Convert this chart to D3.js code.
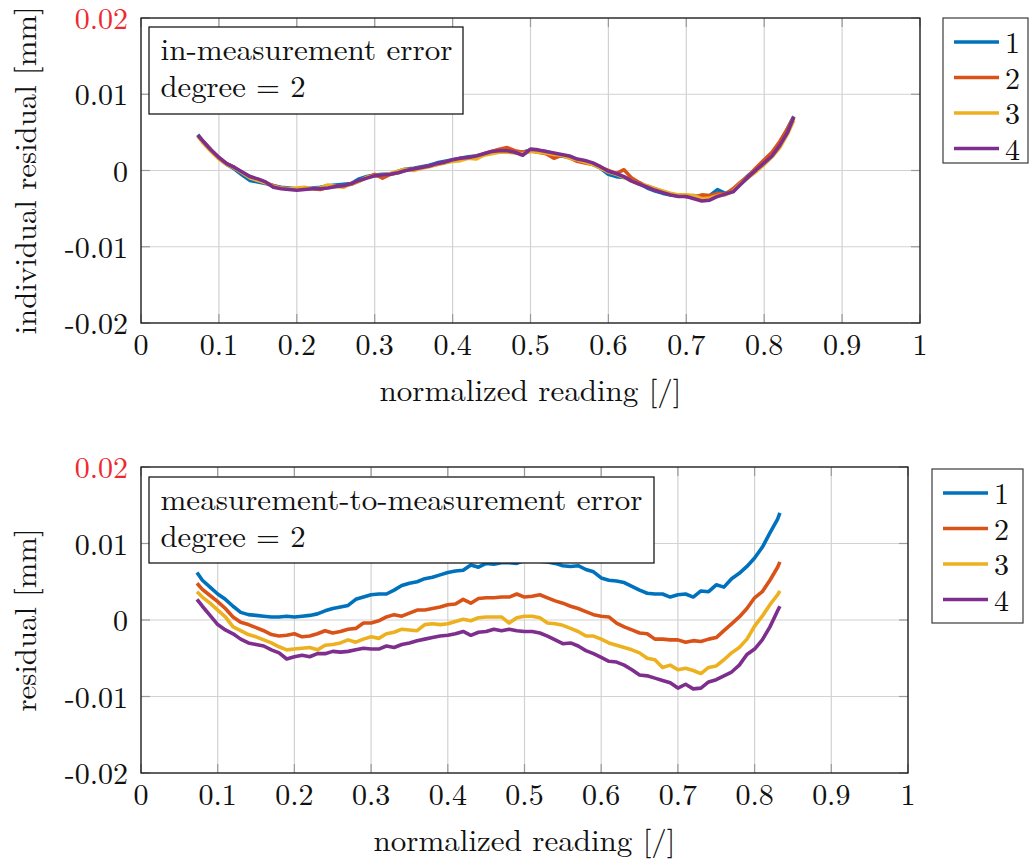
<!DOCTYPE html>
<html>
<head>
<meta charset="utf-8">
<script src="https://cdn.jsdelivr.net/npm/d3@7"></script>
<style>
  html, body { margin: 0; padding: 0; background: #ffffff; }
  svg { display: block; }
</style>
</head>
<body>
<svg id="chart" width="1030" height="860"></svg>
<script>
// ---------------- DATA ----------------
const seriesNames = ["1", "2", "3", "4"];
const seriesColors = ["#0072BD", "#D95319", "#EDB120", "#7E2F8E"];

const xTickValues = [0, 0.1, 0.2, 0.3, 0.4, 0.5, 0.6, 0.7, 0.8, 0.9, 1];
const xTickLabels = ["0", "0.1", "0.2", "0.3", "0.4", "0.5", "0.6", "0.7", "0.8", "0.9", "1"];
const yTickValues = [-0.02, -0.01, 0, 0.01, 0.02];
const yTickLabels = ["-0.02", "-0.01", "0", "0.01", "0.02"];

// Top panel: in-measurement error (individual residual, mm)
const readingTop = [0.073, 0.08, 0.09, 0.10, 0.11, 0.12, 0.13, 0.14, 0.15, 0.16,
  0.17, 0.18, 0.19, 0.20, 0.21, 0.22, 0.23, 0.24, 0.25, 0.26,
  0.27, 0.28, 0.29, 0.30, 0.31, 0.32, 0.33, 0.34, 0.35, 0.36,
  0.37, 0.38, 0.39, 0.40, 0.41, 0.42, 0.43, 0.44, 0.45, 0.46,
  0.47, 0.48, 0.49, 0.50, 0.51, 0.52, 0.53, 0.54, 0.55, 0.56,
  0.57, 0.58, 0.59, 0.60, 0.61, 0.62, 0.63, 0.64, 0.65, 0.66,
  0.67, 0.68, 0.69, 0.70, 0.71, 0.72, 0.73, 0.74, 0.75, 0.76,
  0.77, 0.78, 0.79, 0.80, 0.81, 0.82, 0.83, 0.838];

const top1 = [0.0047, 0.0037, 0.0026, 0.0016, 0.0008, 0.0002, -0.0006, -0.0013, -0.0015, -0.0017,
  -0.0020, -0.0022, -0.0023, -0.0024, -0.0024, -0.0023, -0.0022, -0.0020, -0.0019, -0.0018,
  -0.0017, -0.0011, -0.0008, -0.0006, -0.0005, -0.0005, -0.0001, 0.0002, 0.0003, 0.0005,
  0.0007, 0.0010, 0.0012, 0.0014, 0.0016, 0.0018, 0.0019, 0.0021, 0.0024, 0.0025,
  0.0026, 0.0024, 0.0024, 0.0027, 0.0026, 0.0025, 0.0022, 0.0019, 0.0017, 0.0014,
  0.0012, 0.0008, 0.0003, -0.0005, -0.0008, -0.0009, -0.0012, -0.0017, -0.0023, -0.0027,
  -0.0030, -0.0032, -0.0033, -0.0034, -0.0033, -0.0035, -0.0033, -0.0025, -0.0030, -0.0026,
  -0.0016, -0.0006, 0.0002, 0.0012, 0.0022, 0.0035, 0.0055, 0.0071];
const top2 = [0.0046, 0.0038, 0.0027, 0.0017, 0.0009, 0.0004, -0.0003, -0.0008, -0.0012, -0.0016,
  -0.0020, -0.0023, -0.0024, -0.0025, -0.0024, -0.0024, -0.0025, -0.0022, -0.0021, -0.0020,
  -0.0018, -0.0014, -0.0009, -0.0005, -0.0010, -0.0005, -0.0003, 0.0001, 0.0002, 0.0004,
  0.0006, 0.0008, 0.0011, 0.0013, 0.0015, 0.0017, 0.0018, 0.0022, 0.0025, 0.0028,
  0.0030, 0.0026, 0.0024, 0.0026, 0.0024, 0.0022, 0.0016, 0.0020, 0.0017, 0.0012,
  0.0010, 0.0008, 0.0004, 0.0000, -0.0004, 0.0001, -0.0010, -0.0016, -0.0021, -0.0024,
  -0.0028, -0.0031, -0.0033, -0.0034, -0.0035, -0.0032, -0.0033, -0.0030, -0.0031, -0.0024,
  -0.0015, -0.0007, 0.0004, 0.0014, 0.0024, 0.0038, 0.0055, 0.0070];
const top3 = [0.0045, 0.0036, 0.0025, 0.0015, 0.0008, 0.0003, -0.0003, -0.0010, -0.0013, -0.0016,
  -0.0021, -0.0023, -0.0024, -0.0023, -0.0022, -0.0024, -0.0023, -0.0019, -0.0021, -0.0022,
  -0.0017, -0.0014, -0.0009, -0.0007, -0.0006, -0.0004, -0.0001, 0.0002, 0.0000, 0.0003,
  0.0005, 0.0008, 0.0010, 0.0012, 0.0013, 0.0016, 0.0015, 0.0020, 0.0022, 0.0024,
  0.0024, 0.0023, 0.0022, 0.0025, 0.0024, 0.0023, 0.0021, 0.0020, 0.0016, 0.0014,
  0.0011, 0.0008, 0.0003, -0.0002, -0.0005, -0.0009, -0.0014, -0.0018, -0.0020, -0.0024,
  -0.0027, -0.0030, -0.0032, -0.0032, -0.0033, -0.0037, -0.0036, -0.0033, -0.0032, -0.0027,
  -0.0017, -0.0009, -0.0001, 0.0008, 0.0018, 0.0030, 0.0048, 0.0066];
const top4 = [0.0046, 0.0038, 0.0027, 0.0017, 0.0009, 0.0004, -0.0002, -0.0008, -0.0011, -0.0015,
  -0.0022, -0.0024, -0.0025, -0.0026, -0.0025, -0.0024, -0.0024, -0.0023, -0.0021, -0.0020,
  -0.0017, -0.0013, -0.0010, -0.0007, -0.0006, -0.0005, -0.0003, 0.0000, 0.0002, 0.0004,
  0.0006, 0.0009, 0.0011, 0.0014, 0.0016, 0.0017, 0.0019, 0.0022, 0.0025, 0.0026,
  0.0026, 0.0024, 0.0020, 0.0028, 0.0027, 0.0025, 0.0023, 0.0021, 0.0019, 0.0015,
  0.0013, 0.0010, 0.0005, -0.0001, -0.0004, -0.0008, -0.0014, -0.0018, -0.0022, -0.0026,
  -0.0029, -0.0032, -0.0034, -0.0034, -0.0037, -0.0040, -0.0039, -0.0034, -0.0031, -0.0028,
  -0.0018, -0.0008, 0.0001, 0.0010, 0.0019, 0.0033, 0.0050, 0.0070];

// Bottom panel: measurement-to-measurement error (residual, mm)
const readingBottom = [0.073, 0.08, 0.09, 0.10, 0.11, 0.12, 0.13, 0.14, 0.15, 0.16,
  0.17, 0.18, 0.19, 0.20, 0.21, 0.22, 0.23, 0.24, 0.25, 0.26,
  0.27, 0.28, 0.29, 0.30, 0.31, 0.32, 0.33, 0.34, 0.35, 0.36,
  0.37, 0.38, 0.39, 0.40, 0.41, 0.42, 0.43, 0.44, 0.45, 0.46,
  0.47, 0.48, 0.49, 0.50, 0.51, 0.52, 0.53, 0.54, 0.55, 0.56,
  0.57, 0.58, 0.59, 0.60, 0.61, 0.62, 0.63, 0.64, 0.65, 0.66,
  0.67, 0.68, 0.69, 0.70, 0.71, 0.72, 0.73, 0.74, 0.75, 0.76,
  0.77, 0.78, 0.79, 0.80, 0.81, 0.82, 0.83, 0.833];

const bottom1 = [0.0062, 0.0052, 0.0043, 0.0034, 0.0027, 0.0018, 0.0010, 0.0007, 0.0006, 0.0005,
  0.0004, 0.0004, 0.0005, 0.0004, 0.0005, 0.0006, 0.0008, 0.0012, 0.0015, 0.0017,
  0.0019, 0.0027, 0.0030, 0.0033, 0.0034, 0.0034, 0.0039, 0.0045, 0.0048, 0.0050,
  0.0054, 0.0056, 0.0059, 0.0062, 0.0064, 0.0065, 0.0072, 0.0069, 0.0074, 0.0073,
  0.0075, 0.0075, 0.0074, 0.0078, 0.0079, 0.0077, 0.0076, 0.0074, 0.0071, 0.0070,
  0.0071, 0.0066, 0.0063, 0.0055, 0.0052, 0.0051, 0.0049, 0.0044, 0.0039, 0.0035,
  0.0034, 0.0034, 0.0030, 0.0033, 0.0034, 0.0030, 0.0038, 0.0037, 0.0046, 0.0043,
  0.0054, 0.0061, 0.0070, 0.0081, 0.0095, 0.0114, 0.0132, 0.0140];
const bottom2 = [0.0048, 0.0040, 0.0032, 0.0024, 0.0015, 0.0004, -0.0003, -0.0006, -0.0010, -0.0014,
  -0.0019, -0.0021, -0.0020, -0.0018, -0.0022, -0.0021, -0.0018, -0.0014, -0.0017, -0.0015,
  -0.0012, -0.0011, -0.0004, -0.0004, -0.0001, 0.0004, 0.0007, 0.0005, 0.0009, 0.0013,
  0.0013, 0.0015, 0.0017, 0.0020, 0.0021, 0.0027, 0.0022, 0.0028, 0.0029, 0.0029,
  0.0030, 0.0030, 0.0034, 0.0030, 0.0031, 0.0033, 0.0029, 0.0025, 0.0022, 0.0018,
  0.0015, 0.0011, 0.0007, 0.0005, 0.0004, -0.0004, -0.0009, -0.0013, -0.0017, -0.0018,
  -0.0025, -0.0025, -0.0026, -0.0026, -0.0029, -0.0027, -0.0028, -0.0025, -0.0023, -0.0014,
  -0.0005, 0.0004, 0.0015, 0.0029, 0.0037, 0.0052, 0.0069, 0.0076];
const bottom3 = [0.0037, 0.0030, 0.0022, 0.0013, 0.0004, -0.0009, -0.0014, -0.0019, -0.0022, -0.0026,
  -0.0030, -0.0035, -0.0039, -0.0038, -0.0037, -0.0036, -0.0039, -0.0033, -0.0032, -0.0030,
  -0.0026, -0.0029, -0.0025, -0.0022, -0.0024, -0.0018, -0.0016, -0.0012, -0.0013, -0.0014,
  -0.0006, -0.0005, -0.0006, -0.0005, -0.0002, 0.0001, -0.0001, 0.0003, 0.0004, 0.0004,
  0.0004, -0.0004, 0.0003, 0.0005, 0.0005, 0.0003, -0.0004, -0.0005, -0.0007, -0.0011,
  -0.0015, -0.0021, -0.0021, -0.0025, -0.0030, -0.0033, -0.0036, -0.0039, -0.0043, -0.0050,
  -0.0052, -0.0062, -0.0059, -0.0065, -0.0063, -0.0066, -0.0070, -0.0062, -0.0060, -0.0052,
  -0.0043, -0.0036, -0.0025, -0.0008, 0.0005, 0.0020, 0.0033, 0.0038];
const bottom4 = [0.0027, 0.0018, 0.0006, -0.0006, -0.0013, -0.0018, -0.0025, -0.0030, -0.0032, -0.0034,
  -0.0039, -0.0043, -0.0051, -0.0048, -0.0046, -0.0048, -0.0044, -0.0044, -0.0041, -0.0042,
  -0.0041, -0.0039, -0.0037, -0.0038, -0.0038, -0.0034, -0.0036, -0.0032, -0.0030, -0.0027,
  -0.0025, -0.0023, -0.0021, -0.0020, -0.0018, -0.0015, -0.0020, -0.0016, -0.0015, -0.0012,
  -0.0014, -0.0012, -0.0014, -0.0015, -0.0015, -0.0017, -0.0021, -0.0026, -0.0031, -0.0030,
  -0.0034, -0.0040, -0.0044, -0.0049, -0.0054, -0.0055, -0.0059, -0.0065, -0.0072, -0.0073,
  -0.0076, -0.0079, -0.0082, -0.0089, -0.0084, -0.0090, -0.0089, -0.0081, -0.0078, -0.0073,
  -0.0068, -0.0059, -0.0045, -0.0038, -0.0026, -0.0009, 0.0012, 0.0018];

// ---------------- DRAWING ----------------
const FONT = "Latin Modern Roman";
const svg = d3.select("#chart");

function label(sel) {
  return sel.attr("font-family", FONT).attr("fill", "#111");
}

function drawPanel(cfg) {
  const x = d3.scaleLinear().domain([0, 1]).range([cfg.left, cfg.right]);
  const y = d3.scaleLinear().domain([-0.02, 0.02]).range([cfg.bottom, cfg.top]);
  const g = svg.append("g");
  const W = cfg.right - cfg.left, H = cfg.bottom - cfg.top;

  // grid
  const grid = g.append("g");
  grid.selectAll("line.gx").data(xTickValues).join("line")
    .attr("x1", d => x(d)).attr("x2", d => x(d))
    .attr("y1", cfg.top).attr("y2", cfg.bottom)
    .attr("stroke", "#d2d2d2").attr("stroke-width", 1.2);
  grid.selectAll("line.gy").data(yTickValues).join("line")
    .attr("x1", cfg.left).attr("x2", cfg.right)
    .attr("y1", d => y(d)).attr("y2", d => y(d))
    .attr("stroke", "#d2d2d2").attr("stroke-width", 1.2);

  // ticks (inward, on all four sides)
  const tk = 9;
  const ticks = g.append("g").attr("stroke", "#9a9a9a").attr("stroke-width", 1.2);
  xTickValues.forEach(v => {
    ticks.append("line").attr("x1", x(v)).attr("x2", x(v)).attr("y1", cfg.bottom).attr("y2", cfg.bottom - tk);
    ticks.append("line").attr("x1", x(v)).attr("x2", x(v)).attr("y1", cfg.top).attr("y2", cfg.top + tk);
  });
  yTickValues.forEach(v => {
    ticks.append("line").attr("x1", cfg.left).attr("x2", cfg.left + tk).attr("y1", y(v)).attr("y2", y(v));
    ticks.append("line").attr("x1", cfg.right).attr("x2", cfg.right - tk).attr("y1", y(v)).attr("y2", y(v));
  });

  // series
  const line = d3.line().x(d => x(d[0])).y(d => y(d[1]));
  cfg.series.forEach((vals, i) => {
    const pts = cfg.reading.map((r, k) => [r, vals[k]]);
    g.append("path").datum(pts)
      .attr("d", line)
      .attr("fill", "none")
      .attr("stroke", seriesColors[i])
      .attr("stroke-width", 3.6)
      .attr("stroke-linejoin", "round")
      .attr("stroke-linecap", "butt");
  });

  // annotation box
  const ab = cfg.annot;
  g.append("rect").attr("x", ab.x).attr("y", ab.y).attr("width", ab.w).attr("height", ab.h)
    .attr("fill", "#ffffff").attr("stroke", "#1a1a1a").attr("stroke-width", 1.3);
  label(g.append("text")).attr("x", ab.x + 11.5).attr("y", ab.y + 32.5)
    .attr("font-size", 30).attr("textLength", ab.line1Len).attr("lengthAdjust", "spacingAndGlyphs")
    .text(ab.line1);
  label(g.append("text")).attr("x", ab.x + 11.5).attr("y", ab.y + 69.5)
    .attr("font-size", 30).attr("textLength", 145).attr("lengthAdjust", "spacingAndGlyphs")
    .text("degree = 2");

  // frame
  g.append("rect").attr("x", cfg.left).attr("y", cfg.top).attr("width", W).attr("height", H)
    .attr("fill", "none").attr("stroke", "#1a1a1a").attr("stroke-width", 1.3);

  // tick labels
  label(g.selectAll("text.xt").data(xTickValues).join("text"))
    .attr("x", d => x(d)).attr("y", cfg.bottom + 32)
    .attr("text-anchor", "middle").attr("font-size", 30)
    .text((d, i) => xTickLabels[i]);
  label(g.selectAll("text.yt").data(yTickValues).join("text"))
    .attr("x", cfg.left - 13).attr("y", d => y(d) + 11)
    .attr("text-anchor", "end").attr("font-size", 30)
    .attr("fill", d => d === 0.02 ? "#ee2a2f" : "#111")
    .text((d, i) => yTickLabels[i]);

  // axis titles
  label(g.append("text")).attr("x", (cfg.left + cfg.right) / 2).attr("y", cfg.bottom + 78)
    .attr("text-anchor", "middle").attr("font-size", 30)
    .attr("textLength", 302).attr("lengthAdjust", "spacingAndGlyphs")
    .text("normalized reading [/]");
  label(g.append("text"))
    .attr("transform", `translate(36,${(cfg.top + cfg.bottom) / 2}) rotate(-90)`)
    .attr("text-anchor", "middle").attr("font-size", 30)
    .attr("textLength", cfg.yTitleLen).attr("lengthAdjust", "spacingAndGlyphs")
    .text(cfg.yTitle);

  // legend
  const lg = cfg.legend;
  g.append("rect").attr("x", lg.x).attr("y", lg.y).attr("width", lg.w).attr("height", lg.h)
    .attr("fill", "#ffffff").attr("stroke", "#3a3a3a").attr("stroke-width", 1.2);
  seriesNames.forEach((name, i) => {
    const ly = lg.y + 24 + i * 35.5;
    g.append("line").attr("x1", lg.x + 11).attr("x2", lg.x + 56)
      .attr("y1", ly).attr("y2", ly)
      .attr("stroke", seriesColors[i]).attr("stroke-width", 3.6);
    label(g.append("text")).attr("x", lg.x + 62).attr("y", ly + 11)
      .attr("font-size", 30).text(name);
  });
}

drawPanel({
  left: 141, right: 920, top: 18, bottom: 323,
  reading: readingTop,
  series: [top1, top2, top3, top4],
  annot: { x: 149, y: 27, w: 314, h: 87, line1: "in-measurement error", line1Len: 292 },
  yTitle: "individual residual [mm]", yTitleLen: 328,
  legend: { x: 943, y: 18, w: 85, h: 145 }
});

drawPanel({
  left: 141, right: 908, top: 467, bottom: 773,
  reading: readingBottom,
  series: [bottom1, bottom2, bottom3, bottom4],
  annot: { x: 149, y: 477, w: 505, h: 86, line1: "measurement-to-measurement error", line1Len: 482 },
  yTitle: "residual [mm]", yTitleLen: 183,
  legend: { x: 932, y: 469, w: 91, h: 154 }
});
</script>
</body>
</html>
